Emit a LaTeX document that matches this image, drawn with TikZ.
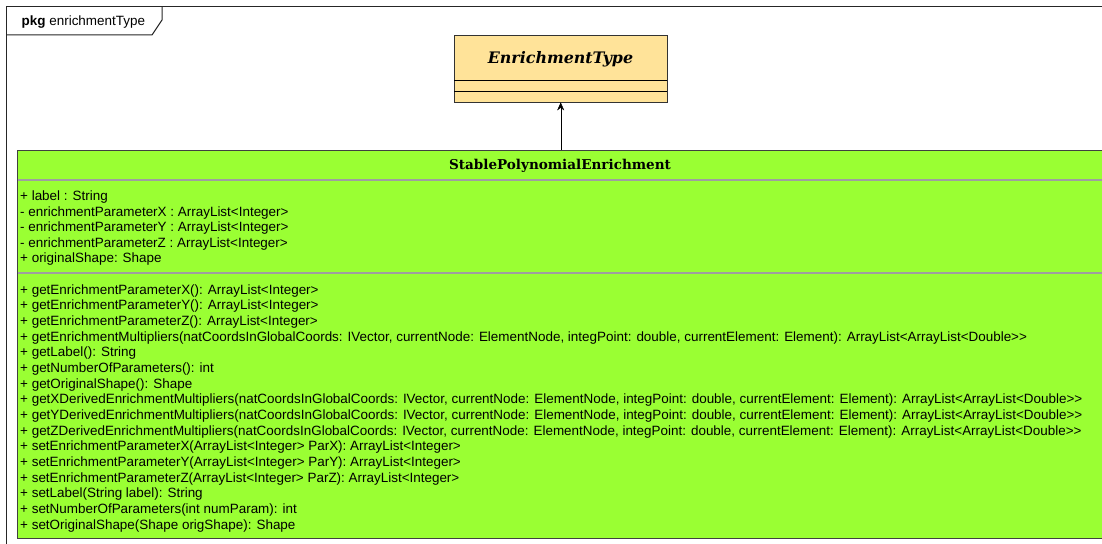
\documentclass[tikz,border=0pt]{standalone}
\usepackage{fontspec}
\setmainfont{Liberation Sans}
\newfontfamily\classfont{DejaVu Serif}
\usetikzlibrary{arrows.meta,positioning}
\definecolor{classgreen}{RGB}{154,255,51}
\definecolor{classorange}{RGB}{255,227,153}
\newcommand\dbl{Double>{}>}
\tikzset{
  member/.style={anchor=base west, inner sep=0pt, font=\fontsize{13.5}{15}\selectfont},
  sepline/.style={draw=gray!75, line width=1.5bp},
  classname/.style={inner sep=0pt, anchor=base, font=\classfont\bfseries\fontsize{13.6}{18}\selectfont},
}
\begin{document}
\begin{tikzpicture}[x=1bp,y=-1bp]
\useasboundingbox (0,0) rectangle (1102,544);
\clip (0,0) rectangle (1102,544);
% package frame
\draw[black!85, line width=1bp] (6,560) -- (6,7) -- (1110,7);
\draw[black!85, line width=1bp] (6,35) -- (152,35) -- (162,20) -- (162,7);
\node[anchor=base west, inner sep=0pt, font=\fontsize{13.5}{15}\selectfont] (pkg) at (21.5,26) {\textbf{pkg} enrichmentType};
% EnrichmentType
\node[draw=black!80, fill=classorange, anchor=north west, inner sep=0pt,
      minimum width=213bp, minimum height=67bp] (etype) at (454,35) {};
\node[classname, font=\classfont\bfseries\itshape\fontsize{15.9}{18}\selectfont] (etypename) at (560.5,64) {EnrichmentType};
\draw (454,80) -- (667,80);
\draw (454,91) -- (667,91);
% StablePolynomialEnrichment
\node[draw=black!75, line width=1.2bp, fill=classgreen, anchor=north west, inner sep=0pt,
      minimum width=1100bp, minimum height=388bp] (stable) at (17,150) {};
\node[classname] (stablename) at (560,169.5) {StablePolynomialEnrichment};
\draw[sepline] (17.6,180) -- (1110,180);
\draw[sepline] (17.6,273) -- (1110,273);
% generalization
\draw[-{Stealth[length=8bp,width=7bp]}] (stable.north -| etype.south) -- (etype.south);
% attributes
\foreach \txt [count=\i] in {
  {+ label : String},
  {- enrichmentParameterX : ArrayList<Integer>},
  {- enrichmentParameterY : ArrayList<Integer>},
  {- enrichmentParameterZ : ArrayList<Integer>},
  {+ originalShape: Shape}}
  \node[member] (attr\i) at (20,185.5+15.5*\i) {\txt};
% operations
\foreach \txt [count=\i] in {
  {+ getEnrichmentParameterX(): ArrayList<Integer>},
  {+ getEnrichmentParameterY(): ArrayList<Integer>},
  {+ getEnrichmentParameterZ(): ArrayList<Integer>},
  {+ getEnrichmentMultipliers(natCoordsInGlobalCoords: IVector, currentNode: ElementNode, integPoint: double, currentElement: Element): ArrayList<ArrayList<\dbl},
  {+ getLabel(): String},
  {+ getNumberOfParameters(): int},
  {+ getOriginalShape(): Shape},
  {+ getXDerivedEnrichmentMultipliers(natCoordsInGlobalCoords: IVector, currentNode: ElementNode, integPoint: double, currentElement: Element): ArrayList<ArrayList<\dbl},
  {+ getYDerivedEnrichmentMultipliers(natCoordsInGlobalCoords: IVector, currentNode: ElementNode, integPoint: double, currentElement: Element): ArrayList<ArrayList<\dbl},
  {+ getZDerivedEnrichmentMultipliers(natCoordsInGlobalCoords: IVector, currentNode: ElementNode, integPoint: double, currentElement: Element): ArrayList<ArrayList<\dbl},
  {+ setEnrichmentParameterX(ArrayList<Integer> ParX): ArrayList<Integer>},
  {+ setEnrichmentParameterY(ArrayList<Integer> ParY): ArrayList<Integer>},
  {+ setEnrichmentParameterZ(ArrayList<Integer> ParZ): ArrayList<Integer>},
  {+ setLabel(String label): String},
  {+ setNumberOfParameters(int numParam): int},
  {+ setOriginalShape(Shape origShape): Shape}}
  \node[member] (op\i) at (20,278.5+15.67*\i) {\txt};
\end{tikzpicture}
\end{document}
